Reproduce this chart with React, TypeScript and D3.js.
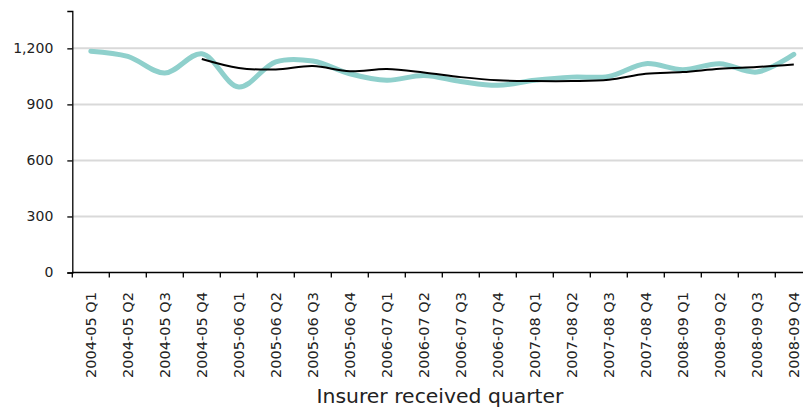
import React, { useEffect, useRef } from "react";
import * as d3 from "d3";

const quarters = [
  "2004-05 Q1", "2004-05 Q2", "2004-05 Q3", "2004-05 Q4",
  "2005-06 Q1", "2005-06 Q2", "2005-06 Q3", "2005-06 Q4",
  "2006-07 Q1", "2006-07 Q2", "2006-07 Q3", "2006-07 Q4",
  "2007-08 Q1", "2007-08 Q2", "2007-08 Q3", "2007-08 Q4",
  "2008-09 Q1", "2008-09 Q2", "2008-09 Q3", "2008-09 Q4",
];
const quarterly = [
  1185, 1157, 1068, 1171, 993, 1128, 1132, 1064, 1029, 1055,
  1023, 1002, 1029, 1046, 1050, 1118, 1086, 1118, 1073, 1168,
];
const movingAvg: (number | null)[] = [
  null, null, null, 1143, 1095, 1087, 1105, 1077, 1089, 1071,
  1046, 1029, 1025, 1025, 1032, 1064, 1073, 1091, 1100, 1113,
];
const yTicks = [0, 300, 600, 900, 1200];
const yMax = 1400;
const xTitle = "Insurer received quarter";

const W = 803;
const H = 409;
const FONT = "'DejaVu Sans', 'Open Sans', sans-serif";

export default function App() {
  const ref = useRef<SVGSVGElement | null>(null);

  useEffect(() => {
    const svg = d3.select(ref.current);
    svg.selectAll("*").remove();

    const left = 72.3;
    const bottom = 272.5;
    const top = 11;
    const step = 37;

    const x = d3.scaleBand<string>().domain(quarters).range([left, left + step * quarters.length]).padding(0);
    const y = d3.scaleLinear().domain([0, yMax]).range([bottom, top]);
    const cx = (q: string) => (x(q) as number) + x.bandwidth() / 2;

    // gridlines
    svg.append("g")
      .selectAll("line")
      .data(yTicks.filter((t) => t > 0))
      .join("line")
      .attr("x1", left)
      .attr("x2", W)
      .attr("y1", (d) => y(d))
      .attr("y2", (d) => y(d))
      .attr("stroke", "#d9d9d9")
      .attr("stroke-width", 2);

    // y axis
    const yAxis = d3.axisLeft(y).tickValues(yTicks).tickSize(5).tickPadding(14)
      .tickFormat((d) => d3.format(",")(d as number));
    const gy = svg.append("g").attr("transform", `translate(${left},0)`).call(yAxis);
    gy.select(".domain").attr("stroke", "#000").attr("stroke-width", 1.3);
    gy.selectAll(".tick line").attr("stroke", "#000").attr("stroke-width", 1.3);
    gy.selectAll(".tick text").attr("font-family", FONT).attr("font-size", 14).attr("fill", "#222");

    // x axis
    const xAxisLine = svg.append("g");
    xAxisLine.append("line")
      .attr("x1", left).attr("x2", W).attr("y1", bottom).attr("y2", bottom)
      .attr("stroke", "#000").attr("stroke-width", 1.3);
    xAxisLine.selectAll("line.tk")
      .data(d3.range(quarters.length + 1))
      .join("line")
      .attr("class", "tk")
      .attr("x1", (i) => left + i * x.step())
      .attr("x2", (i) => left + i * x.step())
      .attr("y1", bottom)
      .attr("y2", bottom + 5)
      .attr("stroke", "#000")
      .attr("stroke-width", 1.3);

    xAxisLine.selectAll("text")
      .data(quarters)
      .join("text")
      .attr("transform", (d) => `translate(${cx(d) + 5.5},${292}) rotate(-90)`)
      .attr("text-anchor", "end")
      .attr("font-family", FONT)
      .attr("font-size", 14.5)
      .attr("fill", "#222")
      .attr("textLength", 86)
      .attr("lengthAdjust", "spacingAndGlyphs")
      .text((d) => d);

    svg.append("text")
      .attr("x", 440)
      .attr("y", 403)
      .attr("text-anchor", "middle")
      .attr("font-family", FONT)
      .attr("font-size", 20)
      .attr("fill", "#222")
      .attr("textLength", 247)
      .attr("lengthAdjust", "spacingAndGlyphs")
      .text(xTitle);

    // quarterly line
    const line1 = d3.line<number>()
      .x((_, i) => cx(quarters[i]))
      .y((d) => y(d))
      .curve(d3.curveCatmullRom.alpha(0.5));
    svg.append("path")
      .attr("d", line1(quarterly))
      .attr("fill", "none")
      .attr("stroke", "#8fd0cc")
      .attr("stroke-width", 5)
      .attr("stroke-linecap", "round");

    // moving average
    const maData = movingAvg
      .map((v, i) => ({ q: quarters[i], v }))
      .filter((d) => d.v !== null) as { q: string; v: number }[];
    const line2 = d3.line<{ q: string; v: number }>()
      .x((d) => cx(d.q))
      .y((d) => y(d.v))
      .curve(d3.curveCatmullRom.alpha(0.5));
    svg.append("path")
      .attr("d", line2(maData))
      .attr("fill", "none")
      .attr("stroke", "#000")
      .attr("stroke-width", 2);
  }, []);

  return (
    <svg
      ref={ref}
      width={W}
      height={H}
      style={{ position: "absolute", left: 0, top: 0, background: "#fff" }}
    />
  );
}
